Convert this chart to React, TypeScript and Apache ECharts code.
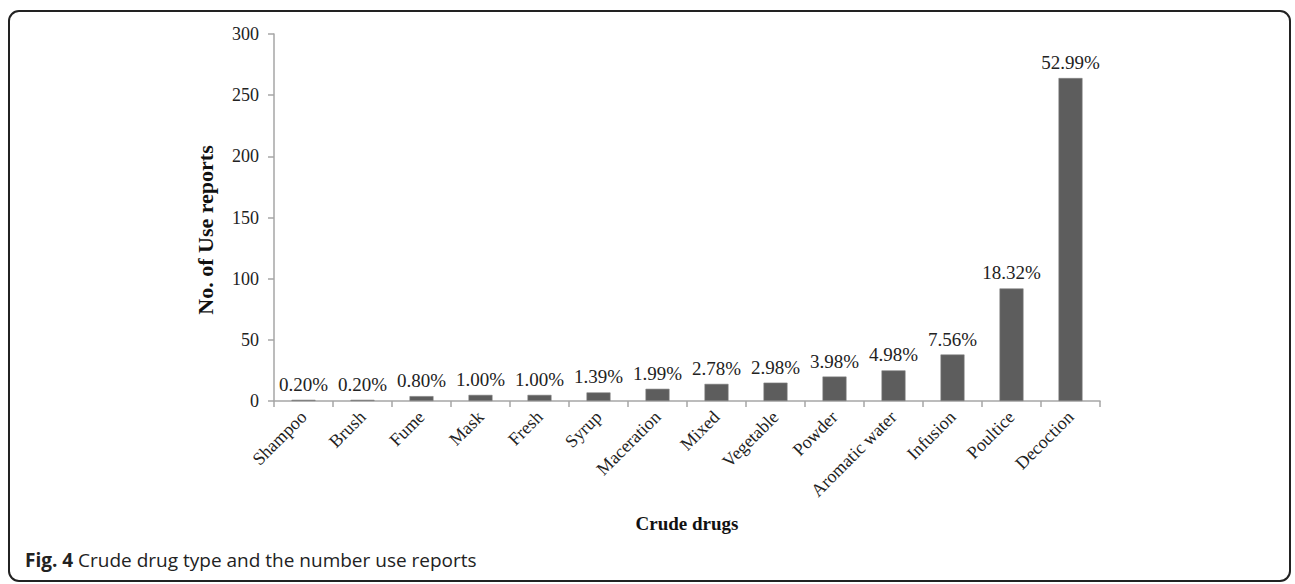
import React, { useEffect, useRef } from "react";
import * as echarts from "echarts";

const categories = [
  "Shampoo", "Brush", "Fume", "Mask", "Fresh", "Syrup", "Maceration",
  "Mixed", "Vegetable", "Powder", "Aromatic water", "Infusion", "Poultice", "Decoction",
];
const useReports = [1, 1, 4, 5, 5, 7, 10, 14, 15, 20, 25, 38, 92, 264];
const percentLabels = [
  "0.20%", "0.20%", "0.80%", "1.00%", "1.00%", "1.39%", "1.99%",
  "2.78%", "2.98%", "3.98%", "4.98%", "7.56%", "18.32%", "52.99%",
];
const yTicks = [0, 50, 100, 150, 200, 250, 300];

const SERIF = "'Liberation Serif', 'Times New Roman', serif";
const SANS = "'Open Sans', 'Noto Sans', sans-serif";

export default function App() {
  const ref = useRef<HTMLDivElement>(null);
  useEffect(() => {
    if (!ref.current) return;
    const chart = echarts.init(ref.current, null, { renderer: "svg" });
    chart.setOption({
      animation: false,
      backgroundColor: "#ffffff",
      grid: { left: 274, top: 34, width: 826, height: 367, containLabel: false },
      xAxis: {
        type: "category",
        data: categories,
        name: "Crude drugs",
        nameLocation: "middle",
        nameGap: 113,
        nameTextStyle: { fontFamily: SERIF, fontWeight: "bold", fontSize: 19, color: "#111", verticalAlign: "top" },
        axisLine: { lineStyle: { color: "#a6a6a6", width: 1.5 } },
        axisTick: { show: true, alignWithLabel: false, length: 6, lineStyle: { color: "#a6a6a6", width: 1.5 } },
        axisLabel: { rotate: 45, margin: 13, fontFamily: SERIF, fontSize: 18, color: "#222", interval: 0 },
      },
      yAxis: {
        type: "value",
        min: 0,
        max: yTicks[yTicks.length - 1],
        interval: yTicks[1] - yTicks[0],
        axisLine: { show: true, lineStyle: { color: "#a6a6a6", width: 1.5 } },
        axisTick: { show: true, length: 6, lineStyle: { color: "#a6a6a6", width: 1.5 } },
        axisLabel: { margin: 15, fontFamily: SERIF, fontSize: 18, color: "#222" },
        splitLine: { show: false },
      },
      series: [
        {
          type: "bar",
          data: useReports,
          barWidth: 24,
          itemStyle: { color: "#5d5d5d", borderColor: "#858585", borderWidth: 0.6 },
          label: {
            show: true,
            position: "top",
            distance: 6,
            fontFamily: SERIF,
            fontSize: 19,
            color: "#222",
            formatter: (p: any) => percentLabels[p.dataIndex],
          },
        },
      ],
      graphic: [
        {
          type: "rect",
          shape: { x: 9, y: 11, width: 1281, height: 570, r: 10 },
          style: { fill: "none", stroke: "#222", lineWidth: 2 },
          silent: true,
        },
        {
          type: "text",
          x: 205,
          y: 230,
          rotation: Math.PI / 2,
          style: {
            text: "No. of Use reports",
            fontFamily: SERIF,
            fontWeight: "bold",
            fontSize: 22,
            fill: "#111",
            align: "center",
            verticalAlign: "middle",
          },
        },
        {
          type: "text",
          x: 25,
          y: 560,
          style: {
            text: "{b|Fig. 4} Crude drug type and the number use reports",
            fontFamily: SANS,
            fontSize: 19,
            fill: "#222",
            verticalAlign: "middle",
            rich: {
              b: { fontFamily: SANS, fontSize: 19, fontWeight: "bold", fill: "#222" },
            },
          },
        },
      ],
    });
    return () => chart.dispose();
  }, []);
  return (
    <div
      ref={ref}
      style={{ position: "fixed", left: 0, top: 0, width: 1295, height: 584 }}
    />
  );
}
